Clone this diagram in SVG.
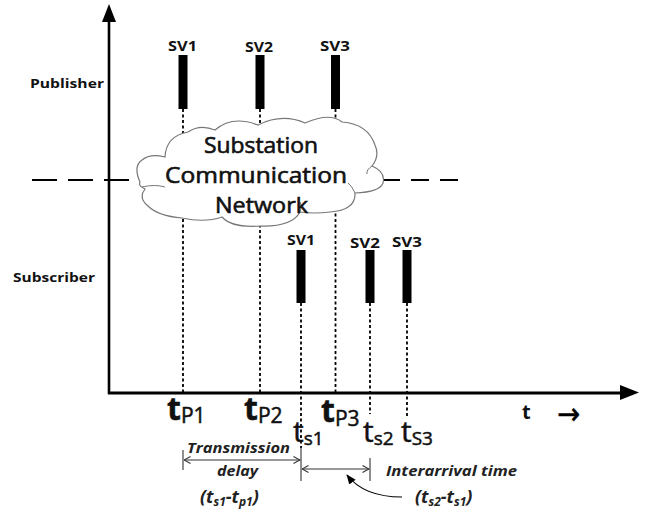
<svg xmlns="http://www.w3.org/2000/svg" width="649" height="512" viewBox="0 0 649 512">
<style>
.lbl{font-family:"Open Sans","Liberation Sans",sans-serif;font-weight:bold;fill:#111}
.big{font-family:"Open Sans","Liberation Sans",sans-serif;fill:#111;stroke:#111;stroke-width:0.5}
.cl{font-family:"Open Sans","Liberation Sans",sans-serif;fill:#111;stroke:#111;stroke-width:0.6}
.it{font-family:"Open Sans","Liberation Sans",sans-serif;font-weight:bold;font-style:italic;fill:#222}
.bar{fill:#000}
.dot{stroke:#000;stroke-width:1.8;stroke-dasharray:3 2.5;fill:none}
.dim{stroke:#333;stroke-width:1.1;fill:none}
</style>
<defs>
<marker id="open" viewBox="0 0 8 8" refX="7.5" refY="4" markerWidth="8" markerHeight="8" markerUnits="userSpaceOnUse" orient="auto-start-reverse">
<path d="M1,0.5 L7.5,4 L1,7.5" fill="none" stroke="#333" stroke-width="1.1"/>
</marker>
<marker id="curv" viewBox="0 0 10 10" refX="9" refY="5" markerWidth="10" markerHeight="10" markerUnits="userSpaceOnUse" orient="auto">
<path d="M0,1 L10,5 L0,9 Z" fill="#000"/>
</marker>
</defs>

<g id="connectors">
<line x1="32" y1="180" x2="140" y2="180" stroke="#000" stroke-width="2" stroke-dasharray="25 11"/>
<line x1="382" y1="180" x2="458" y2="180" stroke="#000" stroke-width="2" stroke-dasharray="18 11"/>
<line class="dot" x1="183" y1="109" x2="183" y2="393"/>
<line class="dot" x1="260" y1="109" x2="260" y2="393"/>
<line class="dot" x1="335.5" y1="109" x2="335.5" y2="393"/>
<line class="dot" x1="301" y1="303" x2="301" y2="448"/>
<line class="dot" x1="370" y1="303" x2="370" y2="414"/>
<line class="dot" x1="407" y1="303" x2="407" y2="417"/>
<line x1="109" y1="394" x2="109" y2="20" stroke="#000" stroke-width="2.6"/>
<path d="M109,4 L102,22 L116,22 Z" fill="#000"/>
<line x1="108" y1="393" x2="624" y2="393" stroke="#000" stroke-width="3"/>
<path d="M620,385 L639,392.5 L620,400 Z" fill="#000"/>
<line class="dim" x1="183" y1="450" x2="183" y2="470"/>
<line class="dim" x1="301" y1="447" x2="301" y2="481"/>
<line class="dim" x1="370" y1="458" x2="370" y2="481"/>
<line class="dim" x1="184" y1="460" x2="300" y2="460" marker-start="url(#open)" marker-end="url(#open)"/>
<line class="dim" x1="302" y1="469" x2="369" y2="469" marker-start="url(#open)" marker-end="url(#open)"/>
<path d="M402,497 C380,497 360,492 347,475" fill="none" stroke="#000" stroke-width="1.2" marker-end="url(#curv)"/>
</g>

<g id="cloud">
<path d="M140,182 Q133,166 142,160 Q150,153 165,157 Q166,136 188,132 Q200,124 215,130 Q232,115 258,125 Q282,113 305,123 Q330,112 342,122 Q368,124 375,145 Q380,156 372,166 Q386,172 383,183 Q380,192 355,193 Q356,210 330,212 Q315,214 300,212 Q292,227 260,226 Q232,228 222,217 Q205,223 182,218 Q158,216 148,206 Q138,198 145,189 Q138,186 140,182 Z" fill="#fff" stroke="#777" stroke-width="1.2"/>
<path d="M142,187 Q155,184 165,187" fill="none" stroke="#777" stroke-width="1"/>
<path d="M372,166 Q366,170 367,174" fill="none" stroke="#777" stroke-width="1"/>
<path d="M355,193 Q352,186 348,183" fill="none" stroke="#777" stroke-width="1"/>
<path d="M300,212 Q303,206 300,202" fill="none" stroke="#777" stroke-width="1"/>
<text class="cl" font-size="21" x="204" y="153" textLength="114" lengthAdjust="spacingAndGlyphs">Substation</text>
<text class="cl" font-size="21" x="165" y="183" textLength="182" lengthAdjust="spacingAndGlyphs">Communication</text>
<text class="cl" font-size="21" x="215" y="213" textLength="93" lengthAdjust="spacingAndGlyphs">Network</text>
</g>

<g id="axis-labels">
<text class="lbl" font-size="13" x="30" y="88" textLength="74" lengthAdjust="spacingAndGlyphs">Publisher</text>
<text class="lbl" font-size="13" x="13" y="282" textLength="82" lengthAdjust="spacingAndGlyphs">Subscriber</text>
<text class="lbl" font-size="20" x="522" y="419">t</text>
<text font-family="'DejaVu Sans', sans-serif" font-size="30" x="557" y="424" textLength="23" lengthAdjust="spacingAndGlyphs" fill="#000" stroke="#000" stroke-width="0.5">→</text>
</g>

<g id="pub-sv1"><rect class="bar" x="178.5" y="55" width="9" height="54"/><text class="lbl" font-size="14" x="168" y="51" textLength="29" lengthAdjust="spacingAndGlyphs">SV1</text></g>
<g id="pub-sv2"><rect class="bar" x="255.5" y="55" width="9" height="54"/><text class="lbl" font-size="14" x="245" y="52" textLength="28" lengthAdjust="spacingAndGlyphs">SV2</text></g>
<g id="pub-sv3"><rect class="bar" x="331" y="55" width="9" height="54"/><text class="lbl" font-size="14" x="320" y="51" textLength="30" lengthAdjust="spacingAndGlyphs">SV3</text></g>
<g id="sub-sv1"><rect class="bar" x="296.5" y="250" width="9" height="53"/><text class="lbl" font-size="14" x="287" y="245" textLength="28" lengthAdjust="spacingAndGlyphs">SV1</text></g>
<g id="sub-sv2"><rect class="bar" x="365.5" y="250" width="9" height="53"/><text class="lbl" font-size="14" x="350" y="248" textLength="30" lengthAdjust="spacingAndGlyphs">SV2</text></g>
<g id="sub-sv3"><rect class="bar" x="402.5" y="250" width="9" height="53"/><text class="lbl" font-size="14" x="392" y="247" textLength="30" lengthAdjust="spacingAndGlyphs">SV3</text></g>

<g id="time-labels">
<text class="big" x="167" y="420"><tspan font-size="32" font-weight="bold">t</tspan><tspan font-size="21" dy="3">P1</tspan></text>
<text class="big" x="244" y="420"><tspan font-size="32" font-weight="bold">t</tspan><tspan font-size="21" dy="3">P2</tspan></text>
<text class="big" x="321" y="422"><tspan font-size="32" font-weight="bold">t</tspan><tspan font-size="21" dy="4">P3</tspan></text>
<text class="big" x="293" y="442"><tspan font-size="30">t</tspan><tspan font-size="19" dy="3">s1</tspan></text>
<text class="big" x="363" y="442"><tspan font-size="30">t</tspan><tspan font-size="19" dy="3">s2</tspan></text>
<text class="big" x="401" y="442"><tspan font-size="30">t</tspan><tspan font-size="19" dy="3">S3</tspan></text>
</g>

<g id="annotations">
<text class="it" font-size="13.5" x="187" y="453" textLength="103" lengthAdjust="spacingAndGlyphs">Transmission</text>
<text class="it" font-size="13.5" x="217" y="476" textLength="41" lengthAdjust="spacingAndGlyphs">delay</text>
<text class="it" x="200" y="503"><tspan font-size="18">(t</tspan><tspan font-size="12" dy="3">s1</tspan><tspan font-size="18" dy="-3">-t</tspan><tspan font-size="12" dy="3">p1</tspan><tspan font-size="18" dy="-3">)</tspan></text>
<text class="it" font-size="13.5" x="386" y="476" textLength="131" lengthAdjust="spacingAndGlyphs">Interarrival time</text>
<text class="it" x="415" y="503"><tspan font-size="18">(t</tspan><tspan font-size="12" dy="3">s2</tspan><tspan font-size="18" dy="-3">-t</tspan><tspan font-size="12" dy="3">s1</tspan><tspan font-size="18" dy="-3">)</tspan></text>
</g>
</svg>
